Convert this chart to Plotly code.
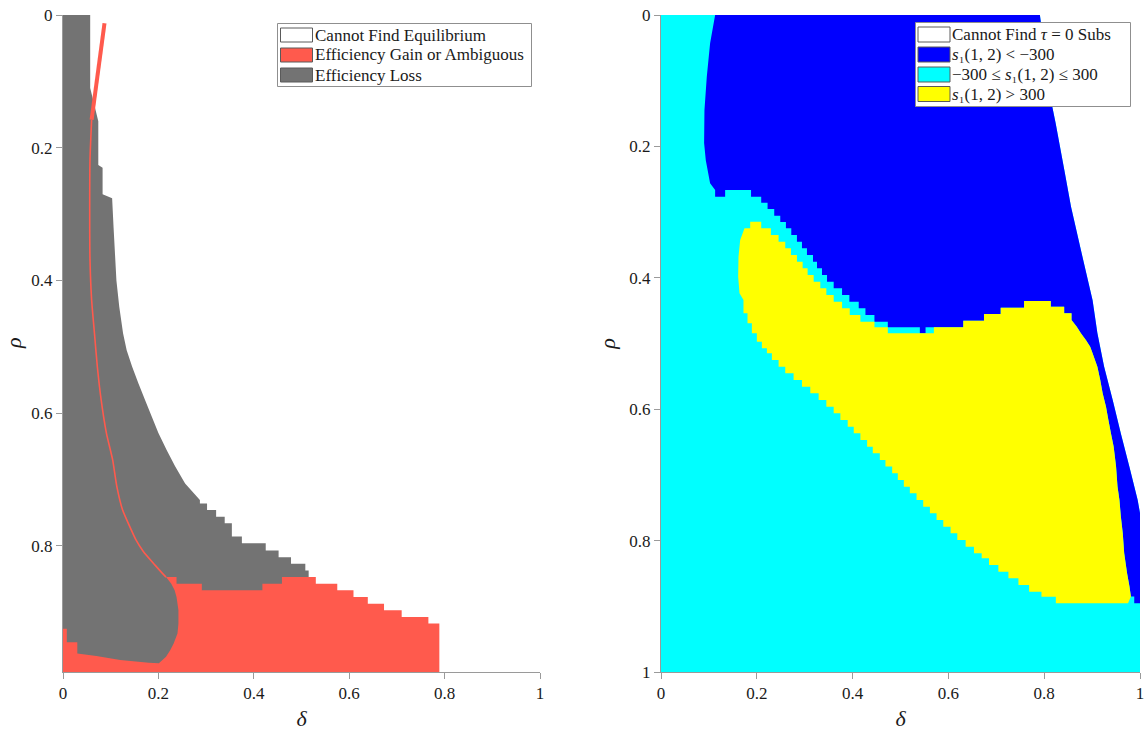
import plotly.graph_objects as go

# ---------------- LEFT PANEL DATA (delta, rho) ----------------
GRAY_EDGE_DELTA = [0.057, 0.057, 0.074, 0.074, 0.083, 0.083, 0.103, 0.106, 0.112, 0.118, 0.126,
                   0.1335, 0.145, 0.158, 0.172, 0.186, 0.200, 0.217, 0.235, 0.256]
GRAY_EDGE_RHO = [0.0, 0.11, 0.16, 0.226, 0.23, 0.27, 0.276, 0.32, 0.40, 0.44, 0.48,
                 0.505, 0.53, 0.555, 0.58, 0.605, 0.63, 0.655, 0.68, 0.706]
GRAY_STEP_DELTA = [0.287, 0.302, 0.321, 0.339, 0.354, 0.375, 0.425, 0.452, 0.478, 0.508, 0.515]
GRAY_STEP_RHO = [0.731, 0.736, 0.746, 0.756, 0.766, 0.786, 0.796, 0.807, 0.817, 0.827, 0.837, 0.847]
GRAY_BOTTOM_RHO = 0.99

RED_TOP_DELTA = [0.216, 0.238, 0.291, 0.418, 0.459, 0.530]
RED_TOP_RHO = [0.847, 0.857, 0.867, 0.857, 0.847]
RED_RIGHT_DELTA = [0.530, 0.575, 0.609, 0.639, 0.673, 0.710, 0.766, 0.789]
RED_RIGHT_RHO = [0.847, 0.857, 0.867, 0.877, 0.887, 0.897, 0.907, 0.917, 0.99]
RED_LEFT_DELTA = [0.0, 0.0, 0.008, 0.008, 0.03, 0.03, 0.07, 0.12, 0.18, 0.201, 0.216, 0.225, 0.232,
                  0.240, 0.242, 0.242, 0.238, 0.234, 0.227, 0.216]
RED_LEFT_RHO = [0.99, 0.925, 0.925, 0.945, 0.945, 0.962, 0.966, 0.972, 0.976, 0.977, 0.967, 0.957,
                0.947, 0.932, 0.917, 0.897, 0.877, 0.867, 0.857, 0.847]
RIDGE_TOP_DELTA = [0.087, 0.081, 0.074, 0.067, 0.060]
RIDGE_TOP_RHO = [0.0126, 0.043, 0.078, 0.118, 0.158]
RIDGE_DELTA = [0.060, 0.0566, 0.056, 0.0566, 0.060, 0.066, 0.072, 0.080, 0.091, 0.104, 0.113,
               0.125, 0.140, 0.153, 0.168, 0.193, 0.208, 0.216]
RIDGE_RHO = [0.158, 0.218, 0.294, 0.369, 0.429, 0.480, 0.530, 0.580, 0.630, 0.670, 0.711,
             0.746, 0.771, 0.791, 0.808, 0.829, 0.841, 0.847]

# ---------------- RIGHT PANEL DATA (delta, rho) ----------------
WHITE_EDGE_DELTA = [0.791, 0.817, 0.824, 0.842, 0.856, 0.883, 0.901, 0.911, 0.925, 0.943, 0.960,
                    0.978, 0.995, 1.0]
WHITE_EDGE_RHO = [0.0, 0.140, 0.165, 0.236, 0.292, 0.378, 0.434, 0.484, 0.535, 0.586, 0.637,
                  0.688, 0.738, 0.758]
BLUE_LEFT_DELTA = [0.113, 0.1025, 0.0956, 0.0907, 0.090, 0.0935, 0.1025, 0.113, 0.113, 0.1339,
                   0.1339]
BLUE_LEFT_RHO = [0.0, 0.043, 0.094, 0.145, 0.195, 0.221, 0.256, 0.2664, 0.2765, 0.2765, 0.2664]
BLUE_STEP_DELTA = [0.188, 0.2092, 0.2225, 0.2364, 0.249, 0.2608, 0.272, 0.2838, 0.2943, 0.3047,
                   0.3173, 0.3257, 0.3361, 0.3466, 0.3605, 0.378, 0.3933, 0.4128, 0.4268, 0.4456,
                   0.4735]
BLUE_STEP_RHO = [0.2664, 0.2765, 0.2857, 0.2953, 0.3054, 0.3151, 0.3247, 0.3349, 0.3450, 0.3552,
                 0.3653, 0.3754, 0.3856, 0.3957, 0.4059, 0.4160, 0.4262, 0.4363, 0.4465, 0.4566,
                 0.4668, 0.4754]
BLUE_NOTCH_DELTA = [0.5404, 0.5404, 0.5523, 0.5523]
BLUE_NOTCH_RHO = [0.4754, 0.4845, 0.4845, 0.4754]
BLUE_TAIL_DELTA = [1.0, 0.988, 0.988]
BLUE_TAIL_RHO = [0.8955, 0.8955, 0.8852]

YEL_TOP_DELTA = [0.1862, 0.2092, 0.2294, 0.2455, 0.2594, 0.2713, 0.2838, 0.2957, 0.3061, 0.3187,
                 0.3326, 0.3452, 0.3605, 0.3780, 0.3940, 0.4163, 0.4456, 0.4735, 0.5697, 0.6311,
                 0.6743, 0.7092, 0.7580, 0.8138]
YEL_TOP_RHO = [0.3146, 0.3247, 0.3349, 0.3450, 0.3552, 0.3653, 0.3754, 0.3856, 0.3957, 0.4059,
               0.4160, 0.4262, 0.4363, 0.4465, 0.4566, 0.4668, 0.4754, 0.4845, 0.4754, 0.4653,
               0.4551, 0.4455, 0.4353]
YEL_RIGHT_DELTA = [0.8138, 0.8417, 0.8417, 0.857, 0.857, 0.868, 0.8766, 0.887, 0.896, 0.901,
                   0.906, 0.911, 0.917, 0.922, 0.929, 0.934, 0.9393, 0.945, 0.950, 0.953, 0.957,
                   0.960, 0.964, 0.967, 0.973, 0.978, 0.981, 0.975]
YEL_RIGHT_RHO = [0.444, 0.444, 0.4541, 0.4541, 0.4642, 0.4744, 0.4845, 0.4947, 0.5048, 0.515,
                 0.5251, 0.5353, 0.5556, 0.5758, 0.5961, 0.6164, 0.6367, 0.657, 0.6874, 0.7178,
                 0.738, 0.7634, 0.7888, 0.8192, 0.8496, 0.87, 0.8852, 0.8955]
YEL_LOW_DELTA = [0.1722, 0.1806, 0.1897, 0.2001, 0.2106, 0.2211, 0.2315, 0.2455, 0.2594, 0.2768,
                 0.2943, 0.3117, 0.3291, 0.3452, 0.3605, 0.3745, 0.3898, 0.4024, 0.4163, 0.4303,
                 0.4421, 0.4568, 0.4686, 0.4826, 0.4944, 0.5070, 0.5195, 0.5335, 0.5474, 0.5614,
                 0.5753, 0.5893, 0.6046, 0.6186, 0.6360, 0.6534, 0.6695, 0.6848, 0.7043, 0.7253,
                 0.7462, 0.7685, 0.7943, 0.8243, 0.8626]
YEL_LOW_RHO = [0.4338, 0.4541, 0.4693, 0.4845, 0.4972, 0.5074, 0.5150, 0.5251, 0.5353, 0.5454,
               0.5556, 0.5657, 0.5758, 0.5860, 0.5961, 0.6063, 0.6164, 0.6266, 0.6367, 0.6469,
               0.6570, 0.6672, 0.6773, 0.6874, 0.6976, 0.7078, 0.7179, 0.7280, 0.7382, 0.7484,
               0.7585, 0.7686, 0.7788, 0.7889, 0.7991, 0.8092, 0.8194, 0.8270, 0.8371, 0.8473,
               0.8574, 0.8676, 0.8777, 0.8854, 0.8955]
YEL_LEFT_DELTA = [0.1639, 0.1611, 0.1618, 0.1653, 0.1743, 0.1862]
YEL_LEFT_RHO = [0.4236, 0.3983, 0.3679, 0.3425, 0.3247, 0.3247]

TICKS_X = [0, 0.2, 0.4, 0.6, 0.8, 1]
TICK_TEXT_X = ["0", "0.2", "0.4", "0.6", "0.8", "1"]
TICKS_Y_LEFT = [0, 0.2, 0.4, 0.6, 0.8]
TICK_TEXT_Y_LEFT = ["0", "0.2", "0.4", "0.6", "0.8"]

LEFT_LEGEND = ["Cannot Find Equilibrium", "Efficiency Gain or Ambiguous", "Efficiency Loss"]
RIGHT_LEGEND = ["Cannot Find <i>τ</i> = 0 Subs",
                "<i>s</i>₁(1, 2) &lt; −300",
                "−300 ≤ <i>s</i>₁(1, 2) ≤ 300",
                "<i>s</i>₁(1, 2) &gt; 300"]

GRAY = "#737373"
RED = "#FF5A4D"
BLUE = "#0000FF"
CYAN = "#00FFFF"
YELLOW = "#FFFF00"
WHITE = "#FFFFFF"
FONT = "Liberation Serif"
TXT = "#1a1a1a"
W, H = 1146, 731


def vsteps(xs, ys):
    px, py = [], []
    for i in range(len(xs)):
        px += [xs[i], xs[i]]
        py += [ys[i], ys[i + 1] if i + 1 < len(ys) else ys[i]]
    return px, py


def hsteps(xs, ys):
    px, py = [], []
    for i in range(len(ys)):
        px += [xs[i], xs[i + 1]]
        py += [ys[i], ys[i]]
    return px, py


def poly(x, y, color, xa, ya):
    return go.Scatter(x=x, y=y, fill="toself", fillcolor=color, mode="none", showlegend=False,
                      hoverinfo="skip", xaxis=xa, yaxis=ya)


fig = go.Figure()

# ---------- left panel ----------
gsx, gsy = vsteps(GRAY_STEP_DELTA, GRAY_STEP_RHO)
gx = [0.0] + GRAY_EDGE_DELTA + gsx + [GRAY_STEP_DELTA[-1], 0.0]
gy = [0.0] + GRAY_EDGE_RHO + gsy + [GRAY_BOTTOM_RHO, GRAY_BOTTOM_RHO]
fig.add_trace(poly(gx, gy, GRAY, "x", "y"))

rtx, rty = hsteps(RED_TOP_DELTA, RED_TOP_RHO)
rrx, rry = vsteps(RED_RIGHT_DELTA, RED_RIGHT_RHO)
rx = rtx + rrx + [RED_RIGHT_DELTA[-1]] + RED_LEFT_DELTA
ry = rty + rry + [RED_RIGHT_RHO[-1]] + RED_LEFT_RHO
fig.add_trace(poly(rx, ry, RED, "x", "y"))
fig.add_trace(go.Scatter(x=RIDGE_TOP_DELTA, y=RIDGE_TOP_RHO, mode="lines",
                         line=dict(color=RED, width=4), showlegend=False, hoverinfo="skip",
                         xaxis="x", yaxis="y"))
fig.add_trace(go.Scatter(x=RIDGE_DELTA, y=RIDGE_RHO, mode="lines",
                         line=dict(color=RED, width=1.6, shape="spline", smoothing=0.6),
                         showlegend=False, hoverinfo="skip", xaxis="x", yaxis="y"))

# ---------- right panel ----------
cx = [0.0] + WHITE_EDGE_DELTA + [1.0, 0.0]
cy = [0.0] + WHITE_EDGE_RHO + [1.0, 1.0]
fig.add_trace(poly(cx, cy, CYAN, "x2", "y2"))

ytx, yty = hsteps(YEL_TOP_DELTA, YEL_TOP_RHO)
lowx, lowy = vsteps(YEL_LOW_DELTA, YEL_LOW_RHO)
yx = ytx + YEL_RIGHT_DELTA + lowx[::-1] + YEL_LEFT_DELTA
yy = yty + YEL_RIGHT_RHO + lowy[::-1] + YEL_LEFT_RHO

k = YEL_TOP_DELTA.index(0.5697) * 2
bsx, bsy = vsteps(BLUE_STEP_DELTA, BLUE_STEP_RHO)
bx = (BLUE_LEFT_DELTA[:1] + WHITE_EDGE_DELTA + BLUE_TAIL_DELTA + YEL_RIGHT_DELTA[-2::-1]
      + ytx[k:][::-1] + BLUE_NOTCH_DELTA[::-1] + bsx[::-1] + BLUE_LEFT_DELTA[::-1])
by = (BLUE_LEFT_RHO[:1] + WHITE_EDGE_RHO + BLUE_TAIL_RHO + YEL_RIGHT_RHO[-2::-1]
      + yty[k:][::-1] + BLUE_NOTCH_RHO[::-1] + bsy[::-1] + BLUE_LEFT_RHO[::-1])
fig.add_trace(poly(bx, by, BLUE, "x2", "y2"))
fig.add_trace(poly(yx, yy, YELLOW, "x2", "y2"))

# ---------- legends (boxes drawn in paper space) ----------
shapes, annots = [], []


def px2paper(x, y):
    return x / W, 1 - y / H


def add_legend(box, sw_x, rows, labels, colors, text_x, size):
    x0, y0 = px2paper(box[0], box[1])
    x1, y1 = px2paper(box[2], box[3])
    shapes.append(dict(type="rect", xref="paper", yref="paper", x0=x0, x1=x1, y0=y1, y1=y0,
                       fillcolor="white", line=dict(color="#8f8f8f", width=1), layer="above"))
    for (ya, yb), lab, col in zip(rows, labels, colors):
        a0, b0 = px2paper(sw_x[0], ya)
        a1, b1 = px2paper(sw_x[1], yb)
        shapes.append(dict(type="rect", xref="paper", yref="paper", x0=a0, x1=a1, y0=b1, y1=b0,
                           fillcolor=col, line=dict(color="#5a5a5a", width=1), layer="above"))
        tx, ty = px2paper(text_x, (ya + yb) / 2)
        annots.append(dict(xref="paper", yref="paper", x=tx, y=ty, xanchor="left",
                           yanchor="middle", text=lab, showarrow=False,
                           font=dict(family=FONT, size=size, color=TXT)))


add_legend((277.5, 23.5, 531.5, 86.5), (280.5, 312.5),
           [(28, 42), (48, 62), (68, 82)], LEFT_LEGEND, [WHITE, RED, GRAY], 313, 17)
add_legend((915.5, 22.5, 1130.5, 106.5), (918, 950),
           [(27, 42), (47, 62), (67, 82), (86.5, 101.5)], RIGHT_LEGEND,
           [WHITE, BLUE, CYAN, YELLOW], 950, 17)

title_font = dict(family=FONT, size=22, color=TXT)
# left y-axis title placed as a rotated annotation (the axis title is clamped by the 0 margin)
lx, ly = px2paper(13, 343)
annots.append(dict(xref="paper", yref="paper", x=lx, y=ly, xanchor="center", yanchor="middle",
                   text="<i>ρ</i>", textangle=-90, showarrow=False, font=title_font))

axis_common = dict(showgrid=False, zeroline=False, showline=True, linecolor="#9a9a9a",
                   linewidth=1, ticks="outside", ticklen=6, tickcolor="#9a9a9a",
                   tickfont=dict(family=FONT, size=17, color=TXT), mirror=False,
                   automargin=False)
fig.update_layout(
    width=W, height=H, margin=dict(l=0, r=0, t=0, b=0, autoexpand=False),
    paper_bgcolor="white", plot_bgcolor="white", showlegend=False,
    font=dict(family=FONT, size=16, color=TXT),
    xaxis=dict(domain=[63 / W, 540 / W], range=[0, 1], tickvals=TICKS_X, ticktext=TICK_TEXT_X,
               title=dict(text="<i>δ</i>", font=title_font, standoff=10), anchor="y",
               **axis_common),
    yaxis=dict(domain=[1 - 672 / H, 1 - 15 / H], range=[0.99, 0], tickvals=TICKS_Y_LEFT,
               ticktext=TICK_TEXT_Y_LEFT, anchor="x", **axis_common),
    xaxis2=dict(domain=[661 / W, 1140 / W], range=[0, 1], tickvals=TICKS_X, ticktext=TICK_TEXT_X,
                title=dict(text="<i>δ</i>", font=title_font, standoff=10), anchor="y2",
                **axis_common),
    yaxis2=dict(domain=[1 - 672 / H, 1 - 15 / H], range=[1, 0], tickvals=TICKS_X,
                ticktext=TICK_TEXT_X,
                title=dict(text="<i>ρ</i>", font=title_font, standoff=7), anchor="x2",
                **axis_common),
    shapes=shapes, annotations=annots,
)

fig.write_html("out.html", config={"displayModeBar": False},
               post_script="document.body.style.margin='0px';"
                           "document.body.style.overflow='hidden';")
